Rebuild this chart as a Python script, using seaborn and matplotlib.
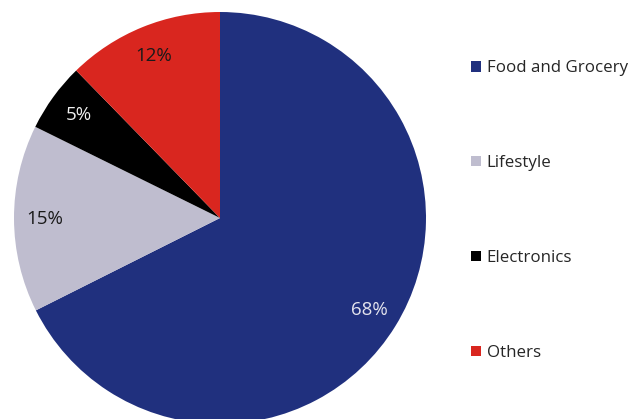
import matplotlib
matplotlib.use("Agg")
import matplotlib.pyplot as plt
import seaborn as sns
from matplotlib.patches import Patch

categories = ["Food and Grocery", "Lifestyle", "Electronics", "Others"]
shares = [67.6, 14.7, 5.4, 12.3]
pct_labels = ["68%", "15%", "5%", "12%"]
colors = ["#20307E", "#BFBDCF", "#000000", "#D9261F"]
label_colors = ["#E4E4EE", "#1A1A1A", "#F0F0F0", "#1A1A1A"]

sns.set_theme(style="white")
plt.rcParams['font.family'] = ['Open Sans', 'DejaVu Sans']

fig = plt.figure(figsize=(6.41, 4.19), dpi=100)
W, H = 641, 419
cx, cy, r = 220, 218, 206
ax = fig.add_axes([(cx - r) / W, (H - cy - r) / H, 2 * r / W, 2 * r / H])

wedges, texts, autotexts = ax.pie(
    shares, colors=colors, startangle=90, counterclock=False,
    autopct="%1.0f%%", pctdistance=0.85, radius=1.0,
    wedgeprops=dict(linewidth=0),
    textprops=dict(fontsize=13.5))
for t, lab, c in zip(autotexts, pct_labels, label_colors):
    t.set_text(lab)
    t.set_color(c)
ax.set_xlim(-1, 1)
ax.set_ylim(-1, 1)
ax.set_aspect("equal")
ax.axis("off")

handles = [Patch(facecolor=c, edgecolor="none") for c in colors]
fig.legend(handles, categories, loc="upper left",
           bbox_to_anchor=(463 / W, 1 - 52 / H), frameon=False,
           fontsize=12.2, handlelength=0.55, handleheight=0.55,
           handletextpad=0.35, labelspacing=4.65, borderpad=0)

fig.savefig("out.png", dpi=100)
